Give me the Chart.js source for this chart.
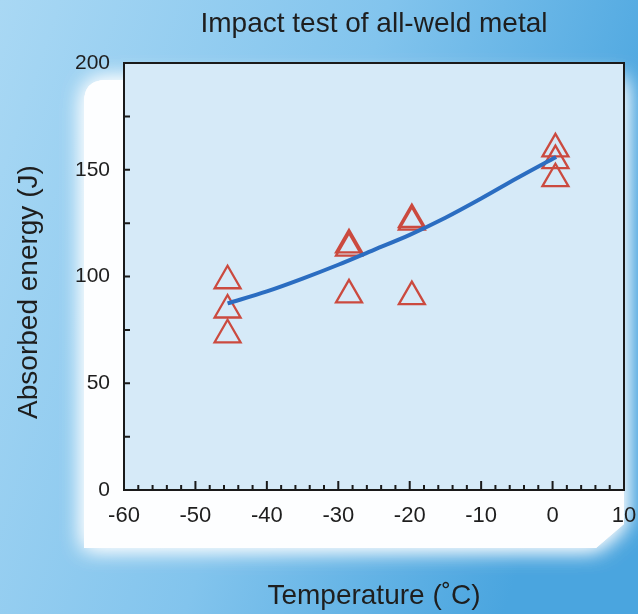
<!DOCTYPE html>
<html>
<head>
<meta charset="utf-8">
<title>Impact test of all-weld metal</title>
<script src="https://cdn.jsdelivr.net/npm/chart.js@4.4.0/dist/chart.umd.min.js"></script>
<style>
    html, body { margin: 0; padding: 0; background: #7fc2ec; }
    #wrap { width: 638px; height: 614px; }
</style>
</head>
<body>
<div id="wrap"><canvas id="impactChart" width="638" height="614"></canvas></div>
<script>
// Axis ticks
const tempTicks = [-60, -50, -40, -30, -20, -10, 0, 10];
const minorTempTicks = [-58, -56, -54, -52, -48, -46, -44, -42, -38, -36, -34, -32,
    -28, -26, -24, -22, -18, -16, -14, -12, -8, -6, -4, -2, 2, 4, 6, 8];
const energyTicks = [0, 50, 100, 150, 200];
const minorEnergyTicks = [25, 75, 125, 175];

// Measured impact values (triangles)
const testTemps = [-45.5, -45.5, -45.5, -28.5, -28.5, -28.5, -19.7, -19.7, -19.7, 0.4, 0.4, 0.4];
const absorbedEnergy = [98, 84.3, 72.7, 114.8, 113.3, 91.4, 126.7, 125.5, 90.6, 159.8, 154.3, 145.8];

// Trend curve
const curveTemps = [-45.5, -40, -35, -30, -25, -20, -15, -10, -5, 0.5];
const curveEnergy = [87.4, 93, 99, 105.5, 112.5, 119.5, 127.5, 136.5, 146, 156];

const textColor = '#1e1e1e';
Chart.defaults.font.family = '"Liberation Sans", Arial, sans-serif';
Chart.defaults.color = textColor;

// Page backdrop: blue gradient, white panel and pale plot area
const backdrop = {
    id: 'backdrop',
    beforeDraw(chart) {
        const { ctx, width, height, chartArea: a } = chart;
        ctx.save();
        const g = ctx.createLinearGradient(0, 0, width, height * 0.35);
        g.addColorStop(0, '#a9d8f4');
        g.addColorStop(0.55, '#82c4ed');
        g.addColorStop(1, '#4aa5df');
        ctx.fillStyle = g;
        ctx.fillRect(0, 0, width, height);

        ctx.shadowColor = 'rgba(255,255,255,1)';
        ctx.shadowBlur = 22;
        ctx.fillStyle = '#fdfeff';
        ctx.beginPath();
        ctx.moveTo(106, 80);
        ctx.lineTo(a.right, 80);
        ctx.lineTo(a.right, 524);
        ctx.lineTo(a.right - 28, 548);
        ctx.lineTo(84, 548);
        ctx.lineTo(84, 102);
        ctx.quadraticCurveTo(84, 80, 106, 80);
        ctx.fill();
        ctx.fill();
        ctx.shadowBlur = 0;

        ctx.fillStyle = '#d6eaf8';
        ctx.fillRect(a.left, a.top, a.right - a.left, a.bottom - a.top);
        ctx.restore();
    }
};

// Frame and inward tick marks
const frame = {
    id: 'frame',
    afterDraw(chart) {
        const { ctx, chartArea: a, scales: { x, y } } = chart;
        ctx.save();
        ctx.strokeStyle = '#1a1a1a';
        ctx.lineWidth = 2;
        ctx.strokeRect(a.left, a.top, a.right - a.left, a.bottom - a.top);

        ctx.beginPath();
        tempTicks.forEach(t => {
            const px = x.getPixelForValue(t);
            ctx.moveTo(px, a.bottom);
            ctx.lineTo(px, a.bottom - 9);
        });
        minorTempTicks.forEach(t => {
            const px = x.getPixelForValue(t);
            ctx.moveTo(px, a.bottom);
            ctx.lineTo(px, a.bottom - 5);
        });
        energyTicks.concat(minorEnergyTicks).forEach(v => {
            const py = y.getPixelForValue(v);
            ctx.moveTo(a.left, py);
            ctx.lineTo(a.left + 6, py);
        });
        ctx.stroke();
        ctx.restore();
    }
};

const curvePoints = curveTemps.map((t, i) => ({ x: t, y: curveEnergy[i] }));
const testPoints = testTemps.map((t, i) => ({ x: t, y: absorbedEnergy[i] }));

new Chart(document.getElementById('impactChart'), {
    type: 'scatter',
    data: {
        datasets: [
            {
                label: 'Trend',
                data: curvePoints,
                showLine: true,
                borderColor: '#2b6dc1',
                borderWidth: 4,
                pointRadius: 0,
                cubicInterpolationMode: 'monotone',
                fill: false
            },
            {
                label: 'Absorbed energy',
                data: testPoints,
                pointStyle: 'triangle',
                pointRadius: 15,
                pointBorderWidth: 2.3,
                borderColor: '#cb4a3f',
                backgroundColor: 'rgba(0,0,0,0)'
            }
        ]
    },
    options: {
        responsive: false,
        animation: false,
        events: [],
        layout: { autoPadding: false, padding: { left: 0, right: 14, top: 0, bottom: 0 } },
        plugins: {
            legend: { display: false },
            tooltip: { enabled: false },
            title: {
                display: true,
                text: 'Impact test of all-weld metal',
                fullSize: false,
                color: textColor,
                font: { size: 28, weight: 'normal' },
                padding: { top: 7, bottom: 22.4 }
            }
        },
        scales: {
            x: {
                type: 'linear',
                min: -60,
                max: 10,
                afterBuildTicks: s => { s.ticks = tempTicks.map(v => ({ value: v })); },
                afterFit: s => {
                    s.height = 124;
                    s.paddingLeft = 0;
                    s.paddingRight = 0;
                },
                // invisible tick length gives the label gap without widening the side padding
                grid: { display: false, drawTicks: true, tickLength: 13 },
                border: { display: false },
                ticks: { padding: 0, font: { size: 22 }, color: textColor },
                title: {
                    display: true,
                    text: 'Temperature (˚C)',
                    color: textColor,
                    font: { size: 28 },
                    padding: { top: 0, bottom: 1 }
                }
            },
            y: {
                min: 0,
                max: 200,
                afterBuildTicks: s => { s.ticks = energyTicks.map(v => ({ value: v })); },
                afterFit: s => {
                    s.width = 124;
                    s.paddingTop = 0;
                    s.paddingBottom = 0;
                },
                grid: { display: false, drawTicks: false },
                border: { display: false },
                ticks: { padding: 14, font: { size: 21 }, color: textColor },
                title: {
                    display: true,
                    // trailing spaces nudge the rotated label down to where the original sits
                    text: 'Absorbed energy (J)    ',
                    color: textColor,
                    font: { size: 28 },
                    padding: { top: 12, bottom: 0 }
                }
            }
        }
    },
    plugins: [backdrop, frame]
});
</script>
</body>
</html>
